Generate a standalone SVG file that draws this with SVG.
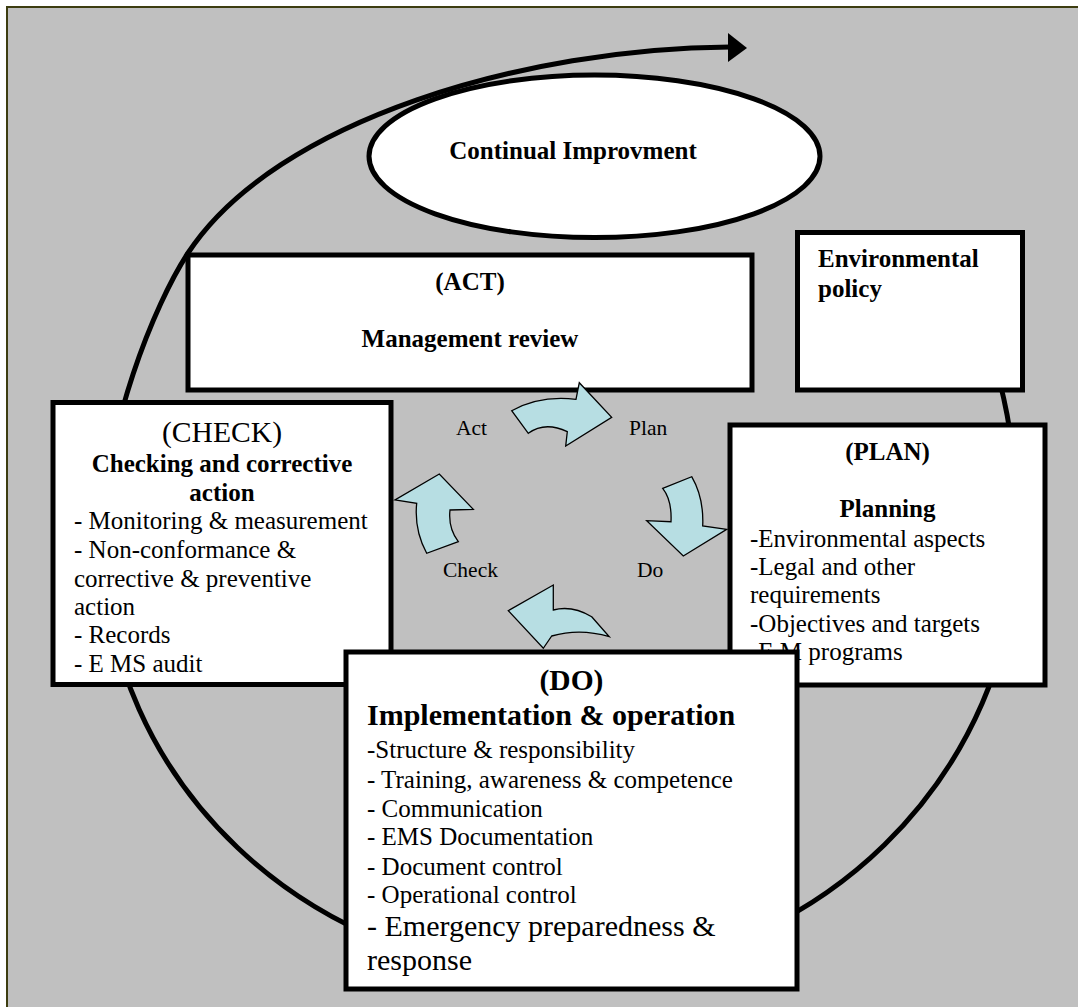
<svg xmlns="http://www.w3.org/2000/svg" width="1078" height="1007" viewBox="0 0 1078 1007">
<style>
  text { font-family: "Liberation Serif", "Times New Roman", serif; fill: #000; }
  .b { font-weight: bold; }
  .f25 { font-size: 25px; }
  .f30 { font-size: 30px; }
  .lbl { font-size: 21.5px; }
  .mid { text-anchor: middle; }
  .box { fill: #fff; stroke: #000; stroke-width: 5; }
  .cyc { fill: #B7DEE3; stroke: #000; stroke-width: 1.3; stroke-linejoin: miter; }
  .loop { fill: none; stroke: #000; stroke-width: 5; }
</style>
<rect x="0" y="0" width="1078" height="1007" fill="#fff"/>
<rect x="7" y="7" width="1090" height="1020" fill="#C0C0C0" stroke="#3d3d10" stroke-width="2"/>

<g id="continual-improvement">
  <ellipse cx="594.5" cy="156.3" rx="225.5" ry="81.3" fill="#fff" stroke="#000" stroke-width="5"/>
  <text class="b f25 mid" x="573" y="159">Continual Improvment</text>
</g>

<g id="connectors">
  <path class="loop" d="M970,300 C1005,370 1018,460 1018,530 C1018,776 814,975 562,975 C308.5,975 103,780 103,540 C103,430 155,303 188,253 C276,119 528,48 730,47"/>
  <polygon points="728,33 747,48 728,62" fill="#000"/>
</g>

<g id="act">
  <rect class="box" x="188" y="255" width="564" height="135"/>
  <text class="b f25 mid" x="470" y="290">(ACT)</text>
  <text class="b f25 mid" x="470" y="347">Management review</text>
</g>

<g id="environmental-policy">
  <rect class="box" x="797.5" y="232.5" width="225" height="157.5"/>
  <text class="b f25" x="818" y="267">Environmental</text>
  <text class="b f25" x="818" y="297">policy</text>
</g>

<g id="plan">
  <rect class="box" x="730" y="425" width="315" height="260"/>
  <text class="b f25 mid" x="887.5" y="460">(PLAN)</text>
  <text class="b f25 mid" x="887.5" y="517">Planning</text>
  <text class="f25" x="750" y="547">-Environmental aspects</text>
  <text class="f25" x="750" y="575">-Legal and other</text>
  <text class="f25" x="750" y="603">requirements</text>
  <text class="f25" x="750" y="632">-Objectives and targets</text>
  <text class="f25" x="750" y="660">-E M programs</text>
</g>

<g id="check">
  <rect class="box" x="53" y="402.5" width="338" height="282"/>
  <text class="mid" style="font-size:29.6px" x="222" y="442">(CHECK)</text>
  <text class="b f25 mid" x="222" y="472">Checking and corrective</text>
  <text class="b f25 mid" x="222" y="501">action</text>
  <text class="f25" x="74" y="529">- Monitoring &amp; measurement</text>
  <text class="f25" x="74" y="558">- Non-conformance &amp;</text>
  <text class="f25" x="74" y="587">corrective &amp; preventive</text>
  <text class="f25" x="74" y="615">action</text>
  <text class="f25" x="74" y="643">- Records</text>
  <text class="f25" x="74" y="672">- E MS audit</text>
</g>

<g id="do">
  <rect class="box" x="346" y="652" width="451" height="337"/>
  <text class="b mid" style="font-size:29.5px" x="571.5" y="690">(DO)</text>
  <text class="b f30" x="367" y="725">Implementation &amp; operation</text>
  <text class="f25" x="367" y="758">-Structure &amp; responsibility</text>
  <text class="f25" x="367" y="788">- Training, awareness &amp; competence</text>
  <text class="f25" x="367" y="817">- Communication</text>
  <text class="f25" x="367" y="845">- EMS Documentation</text>
  <text class="f25" x="367" y="875">- Document control</text>
  <text class="f25" x="367" y="903">- Operational control</text>
  <text class="f30" x="367" y="936">- Emergency preparedness &amp;</text>
  <text class="f30" x="367" y="970">response</text>
</g>

<g id="cycle">
  <path class="cyc" d="M511.7,410.7 Q540,395 576,399.3 L579.3,382.7 L611.7,417.3 L565.7,446 L567.3,431.7 Q545,421 528.3,433.3 Z"/>
  <path class="cyc" d="M662.7,488.3 L691.7,476.7 Q704,498 702.7,526 L726.7,529.3 L683.3,556 L646.7,520.7 L671,521.7 Q672,500 662.7,488.3 Z"/>
  <path class="cyc" d="M591.7,616.7 L609.3,636.7 Q580,628 551.7,636 L543.3,648.3 L508.3,610.7 L553.3,585 L553.3,610 Q572,605 591.7,616.7 Z"/>
  <path class="cyc" d="M426.7,553.3 Q414,530 416.7,503.3 L395,500 L439.3,474 L473.3,509.3 L450,510 Q448,528 458.3,541.7 Z"/>
  <text class="lbl" x="456" y="435">Act</text>
  <text class="lbl" x="629" y="435">Plan</text>
  <text class="lbl" x="443" y="577">Check</text>
  <text class="lbl" x="637" y="577">Do</text>
</g>
</svg>
